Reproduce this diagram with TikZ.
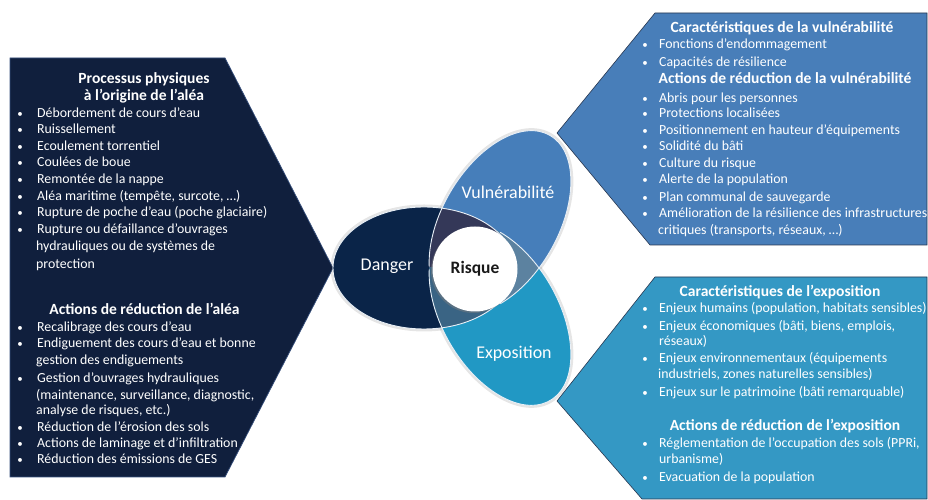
\documentclass[tikz,border=0pt]{standalone}
\usepackage{fontspec}
\setmainfont{Carlito}
\usetikzlibrary{shadows}
\definecolor{cPanelL}{RGB}{16,31,61}
\definecolor{cD}{RGB}{10,36,72}
\definecolor{cV}{RGB}{70,126,186}
\definecolor{cE}{RGB}{33,152,196}
\definecolor{cPanelV}{RGB}{72,126,185}
\definecolor{cPanelE}{RGB}{52,152,196}
\definecolor{cA}{RGB}{52,56,88}
\definecolor{cB}{RGB}{92,130,160}
\definecolor{cC}{RGB}{58,100,132}
\definecolor{cRisk}{RGB}{25,25,25}
\definecolor{cBordL}{RGB}{55,80,125}
\definecolor{cBordR}{RGB}{40,55,80}
\newcommand\itm[5]{\node[bul] (#1b) at (#2,#4) {\textbullet}; \node[txt] (#1) at (#3,#4) {#5};}
\newcommand\cnt[4]{\node[txt] (#1) at (#2,#3) {#4};}
\begin{document}
\begin{tikzpicture}[x=1bp,y=1bp,
 txt/.style={anchor=west, inner sep=0pt, text height=9bp, text depth=0pt, font=\fontsize{13.9}{16}\selectfont, text=white},
 bul/.style={anchor=center, inner sep=0pt, text height=9bp, text depth=0pt, font=\fontsize{11}{13}\selectfont, text=white},
 hd/.style={anchor=center, inner sep=0pt, text height=10bp, text depth=0pt, font=\fontsize{15.6}{18}\selectfont\bfseries, text=white},
 lbl/.style={inner sep=0pt, text height=12bp, text depth=0pt, font=\fontsize{18}{21}\selectfont, text=white},
 outl/.style={draw=white!88!cV, line width=0.9bp},
 halo/.style={draw=black, line width=5bp, opacity=0.10},
 Vrot/.style={rotate around={60:(500,278)}},
 Erot/.style={rotate around={-60:(500,186)}},
]
\useasboundingbox (0,0) rectangle (928,500);

% panels
\path[fill=cPanelL, draw=cBordL, line width=0.7bp] (10,442) -- (225,442) -- (333,232) -- (225,23) -- (10,23) -- cycle;
\path[fill=cPanelV, draw=cBordR, line width=0.6bp] (655,487) -- (927,487) -- (927,255) -- (650,255) -- (557,367) -- cycle;
\path[fill=cPanelE, draw=cBordR, line width=0.6bp] (655,223) -- (927,223) -- (927,1) -- (642,1) -- (557,99) -- cycle;

% halos
\draw[halo] (424,232) ellipse [x radius=91, y radius=61];
\draw[halo, Vrot] (500,278) ellipse [x radius=100, y radius=58];
\draw[halo, Erot] (500,186) ellipse [x radius=100, y radius=58];

% ellipses
\fill[cD] (424,232) ellipse [x radius=91, y radius=61];
\fill[cV, Vrot] (500,278) ellipse [x radius=100, y radius=58];
\fill[cE, Erot] (500,186) ellipse [x radius=100, y radius=58];
\begin{scope}
  \clip[Vrot] (500,278) ellipse [x radius=100, y radius=58];
  \fill[cB, Erot] (500,186) ellipse [x radius=100, y radius=58];
\end{scope}
\begin{scope}
  \clip (424,232) ellipse [x radius=91, y radius=61];
  \clip (300,232) rectangle (560,320);
  \fill[cA, Vrot] (500,278) ellipse [x radius=100, y radius=58];
  \fill[cA, Erot] (500,186) ellipse [x radius=100, y radius=58];
\end{scope}
\begin{scope}
  \clip (424,232) ellipse [x radius=91, y radius=61];
  \clip (300,140) rectangle (560,232);
  \fill[cC, Vrot] (500,278) ellipse [x radius=100, y radius=58];
  \fill[cC, Erot] (500,186) ellipse [x radius=100, y radius=58];
\end{scope}

% outlines
\draw[outl] (424,232) ellipse [x radius=91, y radius=61];
\draw[outl, Vrot] (500,278) ++(-135:100 and 58) arc[start angle=-135, end angle=137.8, x radius=100, y radius=58];
\draw[outl, Erot] (500,186) ++(-137.8:100 and 58) arc[start angle=-137.8, end angle=135, x radius=100, y radius=58];

% centre
\node[circle, fill=white, minimum size=85bp, inner sep=0pt,
  drop shadow={shadow xshift=-1.5bp, shadow yshift=-1.5bp, opacity=.45},
  font=\fontsize{17.5}{20}\selectfont\bfseries, text=cRisk] (risk) at (475,231) {Risque};
\node[lbl] (danger) at (387,235) {Danger};
\node[lbl] (vuln) at (508,307) {Vulnérabilité};
\node[lbl] (expo) at (514,147) {Exposition};

% left panel
\node[hd] (h1a) at (144,421) {Processus physiques};
\node[hd] (h1b) at (144,404) {à l’origine de l’aléa};
\itm{l1}{20}{37}{387}{Débordement de cours d’eau}
\itm{l2}{20}{37}{371}{Ruissellement}
\itm{l3}{20}{37}{354}{Ecoulement torrentiel}
\itm{l4}{20}{37}{338}{Coulées de boue}
\itm{l5}{20}{37}{321}{Remontée de la nappe}
\itm{l6}{20}{37}{304}{Aléa maritime (tempête, surcote, …)}
\itm{l7}{20}{37}{288}{Rupture de poche d’eau (poche glaciaire)}
\itm{l8}{20}{37}{271}{Rupture ou défaillance d’ouvrages}
\cnt{l8a}{36}{254}{hydrauliques ou de systèmes de}
\cnt{l8b}{36}{236}{protection}
\node[hd] (h2) at (144.5,190) {Actions de réduction de l’aléa};
\itm{m1}{20}{37}{173}{Recalibrage des cours d’eau}
\itm{m2}{20}{37}{157}{Endiguement des cours d’eau et bonne}
\cnt{m2a}{36}{140}{gestion des endiguements}
\itm{m3}{20}{37}{122}{Gestion d’ouvrages hydrauliques}
\cnt{m3a}{36}{105}{(maintenance, surveillance, diagnostic,}
\cnt{m3b}{36}{90}{analyse de risques, etc.)}
\itm{m4}{20}{37}{73}{Réduction de l’érosion des sols}
\itm{m5}{20}{37}{57}{Actions de laminage et d’infiltration}
\itm{m6}{20}{37}{41}{Réduction des émissions de GES}

% top right panel
\node[hd] (h3) at (782,472) {Caractéristiques de la vulnérabilité};
\itm{v1}{645}{659}{456}{Fonctions d’endommagement}
\itm{v2}{645}{659}{438}{Capacités de résilience}
\node[hd] (h4) at (785,421) {Actions de réduction de la vulnérabilité};
\itm{w1}{645}{659}{402}{Abris pour les personnes}
\itm{w2}{645}{659}{387}{Protections localisées}
\itm{w3}{645}{659}{370}{Positionnement en hauteur d’équipements}
\itm{w4}{645}{659}{354}{Solidité du bâti}
\itm{w5}{645}{659}{337}{Culture du risque}
\itm{w6}{645}{659}{321}{Alerte de la population}
\itm{w7}{645}{659}{303}{Plan communal de sauvegarde}
\itm{w8}{645}{659}{287}{Amélioration de la résilience des infrastructures}
\cnt{w8a}{658}{270}{critiques (transports, réseaux, …)}

% bottom right panel
\node[hd] (h5) at (780,208) {Caractéristiques de l’exposition};
\itm{e1}{645}{659}{192}{Enjeux humains (population, habitats sensibles)}
\itm{e2}{645}{659}{174}{Enjeux économiques (bâti, biens, emplois,}
\cnt{e2a}{659}{159}{réseaux)}
\itm{e3}{645}{659}{142}{Enjeux environnementaux (équipements}
\cnt{e3a}{658}{126}{industriels, zones naturelles sensibles)}
\itm{e4}{645}{659}{108}{Enjeux sur le patrimoine (bâti remarquable)}
\node[hd] (h6) at (785,74) {Actions de réduction de l’exposition};
\itm{f1}{645}{659}{57}{Réglementation de l’occupation des sols (PPRi,}
\cnt{f1a}{659}{41}{urbanisme)}
\itm{f2}{645}{659}{23}{Evacuation de la population}
\end{tikzpicture}
\end{document}
